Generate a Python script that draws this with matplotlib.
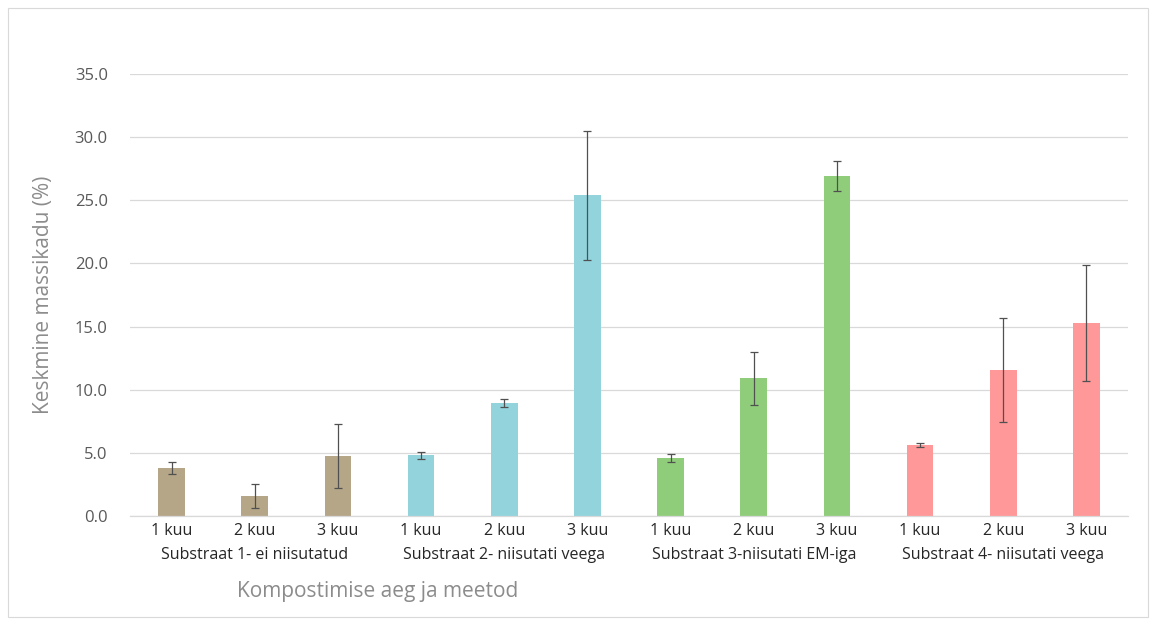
import matplotlib
matplotlib.use("Agg")
import matplotlib.pyplot as plt
from matplotlib.patches import Rectangle

months = ["1 kuu", "2 kuu", "3 kuu"]
groups = ["Substraat 1- ei niisutatud", "Substraat 2- niisutati veega",
          "Substraat 3-niisutati EM-iga", "Substraat 4- niisutati veega"]
values = [[3.8, 1.6, 4.75], [4.8, 8.95, 25.4], [4.6, 10.9, 26.9], [5.6, 11.55, 15.3]]
errors = [[0.5, 0.95, 2.55], [0.3, 0.3, 5.1], [0.3, 2.1, 1.2], [0.15, 4.1, 4.6]]
colors = ["#B5A688", "#92D3DC", "#8FCD7A", "#FF9898"]
yticks = [0, 5, 10, 15, 20, 25, 30, 35]

plt.rcParams['font.family'] = ['Open Sans', 'DejaVu Sans']
W, H = 1165, 625
fig = plt.figure(figsize=(W/100, H/100), dpi=100)
fig.patches.append(Rectangle((8/W, 8/H), (1148-8)/W, (617-8)/H, transform=fig.transFigure,
                             fill=False, edgecolor="#D9D9D9", linewidth=0.8))
ax = fig.add_axes([130/W, 1-516/H, (1128-130)/W, (516-74)/H])

pos = 0
for g in range(len(groups)):
    for m in range(len(months)):
        ax.bar(pos, values[g][m], width=0.32, color=colors[g], zorder=2)
        ax.errorbar(pos, values[g][m], yerr=errors[g][m], ecolor="#505050", elinewidth=0.9,
                    capsize=3, capthick=0.9, fmt="none", zorder=3)
        ax.text(pos, -0.015, months[m], transform=ax.get_xaxis_transform(), ha="center", va="top",
                fontsize=11.5, color="#262626")
        pos += 1
    ax.text(g*3 + 1, -0.07, groups[g], transform=ax.get_xaxis_transform(), ha="center", va="top",
            fontsize=11.5, color="#262626")

ax.set_xlim(-0.5, 11.5)
ax.set_ylim(0, 35)
ax.set_yticks(yticks)
ax.set_yticklabels([f"{v:.1f}" for v in yticks], fontsize=12, color="#595959")
ax.tick_params(axis="y", length=0, pad=16)
ax.set_xticks([])
ax.grid(axis="y", color="#D9D9D9", linewidth=0.9, zorder=0)
for s in ["top", "right", "left"]:
    ax.spines[s].set_visible(False)
ax.spines["bottom"].set_color("#D9D9D9")
ax.spines["bottom"].set_linewidth(0.9)

fig.text(44/W, 1-295/H, "Keskmine massikadu (%)", rotation=90, ha="center", va="center",
         fontsize=15, color="#8C8C8C")
fig.text(378/W, 1-591/H, "Kompostimise aeg ja meetod", ha="center", va="center",
         fontsize=15, color="#8C8C8C")

fig.savefig("out.png", dpi=100, facecolor="white")
